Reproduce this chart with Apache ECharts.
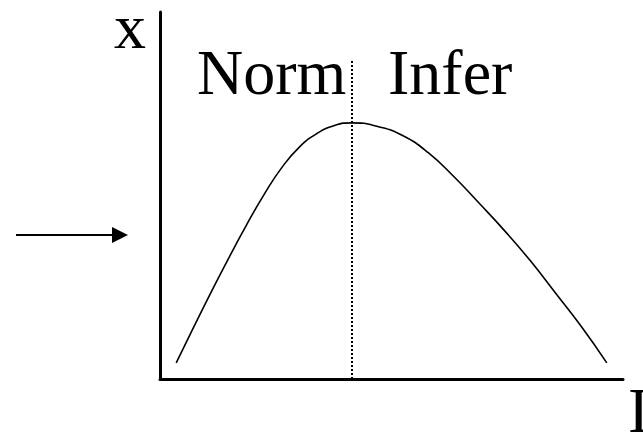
<!DOCTYPE html>
<html>
<head>
<meta charset="utf-8">
<script src="https://cdn.jsdelivr.net/npm/echarts@6/dist/echarts.min.js"></script>
<style>
  html, body { margin: 0; padding: 0; background: #fff; }
  #main { width: 643px; height: 435px; }
</style>
</head>
<body>
<div id="main"></div>
<script>
// curve (arbitrary units, 0..100 on both axes)
var curveX = [3.5, 7.3, 11.1, 14.9, 18.7, 22.5, 26.3, 30.1, 33.9, 37.7, 41.5,
              47, 52.5, 58, 63.5, 69, 74.5, 80, 85.5, 91, 96.5];
var curveY = [4.4, 14.2, 23.8, 33.1, 42.0, 50.3, 57.6, 63.2, 66.9, 69.1, 69.8,
              68.8, 66.3, 61.6, 55.1, 47.8, 40.3, 32.2, 23.3, 14.3, 4.4];

// dotted divider at the peak
var dividerX = 41.5;
var dividerTop = 87.2;

var regionLabels = ['Norm', 'Infer'];
var yName = 'x';
var xName = 'I';

var FONT = '64px "Liberation Serif", "DejaVu Serif", serif';

var points = [];
for (var i = 0; i < curveX.length; i++) {
  points.push([curveX[i], curveY[i]]);
}

var chart = echarts.init(document.getElementById('main'), null, { renderer: 'canvas' });

function axis() {
  return {
    type: 'value',
    min: 0,
    max: 100,
    axisLine: { show: true, lineStyle: { color: '#000', width: 3 } },
    axisTick: { show: false },
    axisLabel: { show: false },
    splitLine: { show: false }
  };
}

var option = {
  animation: false,
  backgroundColor: '#fff',
  grid: { left: 160, right: 20, top: 12, bottom: 56 },
  xAxis: axis(),
  yAxis: axis(),
  series: [{
    type: 'line',
    data: points,
    smooth: 0.5,
    symbol: 'none',
    lineStyle: { color: '#000', width: 1.6 },
    markLine: {
      silent: true,
      symbol: 'none',
      label: { show: false },
      lineStyle: { color: '#000', width: 2, type: [2, 2] },
      data: [[
        { coord: [dividerX, 0] },
        { coord: [dividerX, dividerTop] }
      ]]
    }
  }],
  graphic: [
    // arrow pointing at the y axis
    { type: 'line', shape: { x1: 16, y1: 235, x2: 114, y2: 235 }, style: { stroke: '#000', lineWidth: 2 } },
    { type: 'polygon', shape: { points: [[112, 227], [128, 235], [112, 243]] }, style: { fill: '#000' } },
    { type: 'text', style: { text: yName, x: 146, y: 31, align: 'right', verticalAlign: 'middle', font: FONT, fill: '#000' } },
    { type: 'text', style: { text: regionLabels[0], x: 197, y: 77, align: 'left', verticalAlign: 'middle', font: FONT, fill: '#000' } },
    { type: 'text', style: { text: regionLabels[1], x: 388, y: 77, align: 'left', verticalAlign: 'middle', font: FONT, fill: '#000' } },
    { type: 'text', style: { text: xName, x: 628, y: 415, align: 'left', verticalAlign: 'middle', font: FONT, fill: '#000' } }
  ]
};

chart.setOption(option);
</script>
</body>
</html>
